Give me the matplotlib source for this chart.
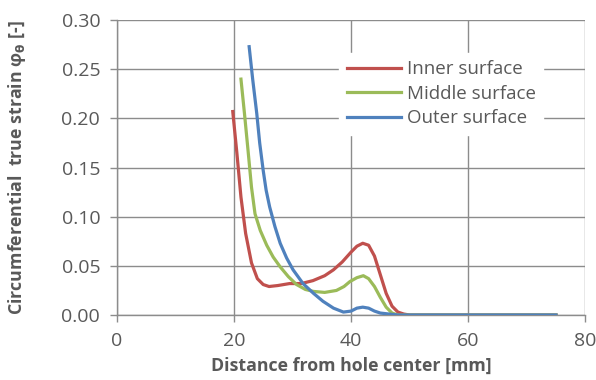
import matplotlib
matplotlib.use("Agg")
import matplotlib.pyplot as plt

# data
x_inner = [19.8, 20.5, 21.2, 22.0, 23.0, 24.0, 25.0, 26.0, 27.5, 29.5, 31.5, 33.5, 35.5, 37.0, 38.5, 40.0, 41.0, 42.0, 43.0, 44.0, 45.0, 46.0, 47.0, 48.0, 49.0, 50.0, 55.0, 60.0, 65.0, 70.0, 75.0]
y_inner = [0.207, 0.165, 0.120, 0.083, 0.053, 0.037, 0.031, 0.029, 0.030, 0.032, 0.032, 0.035, 0.040, 0.046, 0.054, 0.064, 0.070, 0.073, 0.071, 0.060, 0.041, 0.022, 0.009, 0.003, 0.001, 0.0, 0.0, 0.0, 0.0, 0.0, 0.0]

x_middle = [21.2, 21.8, 22.4, 23.0, 23.6, 24.5, 25.6, 26.7, 27.9, 29.3, 30.7, 32.2, 33.6, 35.5, 37.5, 38.8, 39.8, 41.0, 42.1, 43.0, 44.0, 45.0, 46.0, 47.0, 48.0, 50.0, 55.0, 60.0, 65.0, 70.0, 75.0]
y_middle = [0.240, 0.205, 0.168, 0.130, 0.103, 0.086, 0.071, 0.059, 0.049, 0.039, 0.031, 0.026, 0.024, 0.023, 0.025, 0.029, 0.034, 0.038, 0.040, 0.037, 0.029, 0.018, 0.008, 0.002, 0.0, 0.0, 0.0, 0.0, 0.0, 0.0, 0.0]

x_outer = [22.6, 23.2, 23.9, 24.4, 25.0, 25.5, 26.1, 27.0, 27.9, 29.0, 30.1, 31.8, 33.6, 35.2, 37.0, 38.7, 40.0, 41.0, 42.0, 43.0, 44.0, 45.0, 46.5, 48.0, 50.0, 55.0, 60.0, 65.0, 70.0, 75.0]
y_outer = [0.273, 0.240, 0.205, 0.175, 0.147, 0.127, 0.110, 0.090, 0.073, 0.058, 0.046, 0.032, 0.022, 0.014, 0.007, 0.003, 0.004, 0.007, 0.008, 0.007, 0.004, 0.002, 0.001, 0.0, 0.0, 0.0, 0.0, 0.0, 0.0, 0.0]

x_ticks = [0, 20, 40, 60, 80]
y_ticks = [0.00, 0.05, 0.10, 0.15, 0.20, 0.25, 0.30]

plt.rcParams['font.family'] = ['Open Sans', 'DejaVu Sans']
gray = '#595959'
gridc = '#8c8c8c'

fig = plt.figure(figsize=(5.96, 3.8), dpi=100)
ax = fig.add_axes([0.196, 0.171, 0.786, 0.776])

ax.plot(x_inner, y_inner, color='#c0504d', lw=2.3, label='Inner surface', zorder=3)
ax.plot(x_middle, y_middle, color='#9bbb59', lw=2.3, label='Middle surface', zorder=3)
ax.plot(x_outer, y_outer, color='#4f81bd', lw=2.3, label='Outer surface', zorder=3)

ax.set_xlim(0, 80)
ax.set_ylim(0, 0.30)
ax.set_xticks(x_ticks)
ax.set_yticks(y_ticks)
ax.set_yticklabels(['%.2f' % v for v in y_ticks])
ax.grid(True, color=gridc, lw=1)
ax.set_axisbelow(True)
for s in ['top', 'right']:
    ax.spines[s].set_visible(False)
for s in ['left', 'bottom']:
    ax.spines[s].set_color(gridc)
    ax.spines[s].set_linewidth(1)
ax.tick_params(colors=gridc, labelcolor=gray, labelsize=14, length=5, width=1, pad=7)

ax.set_xlabel('Distance from hole center [mm]', fontsize=12.8, fontweight='bold', color=gray, labelpad=5)
ax.set_ylabel(r'Circumferential  true strain φ$_\mathbf{\theta}$ [-]', fontsize=12.8, fontweight='bold', color=gray, labelpad=24)

leg = ax.legend(loc='upper left', bbox_to_anchor=(0.475, 0.89), borderaxespad=0, fontsize=13.5, frameon=True,
                fancybox=False, edgecolor='white', framealpha=1, handlelength=2.9,
                handletextpad=0.3, labelspacing=0.35, borderpad=0.4)
for t in leg.get_texts():
    t.set_color(gray)

plt.savefig('out.png', dpi=100)
